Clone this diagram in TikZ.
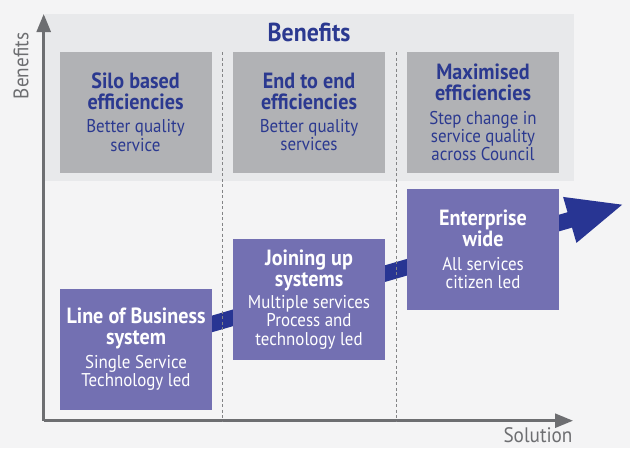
\documentclass[tikz,border=0pt]{standalone}
\usepackage{fontspec}
\setmainfont{PT Sans}[FakeStretch=0.915]
\usetikzlibrary{arrows.meta}

\definecolor{navy}{RGB}{43,57,144}
\definecolor{arrowblue}{RGB}{40,53,147}
\definecolor{panelgrey}{RGB}{232,233,235}
\definecolor{boxgrey}{RGB}{177,178,181}
\definecolor{boxpurple}{RGB}{115,112,178}
\definecolor{axisgrey}{RGB}{109,110,113}
\definecolor{paper}{RGB}{244,244,245}

\newcommand\mytitlefont{\fontsize{26}{28}\selectfont\bfseries}
\newcommand\myheadfont{\fontsize{22}{21}\selectfont\bfseries}
\newcommand\mybodyfont{\fontsize{18.5}{18.3}\selectfont\mdseries}
% two-part label: bold heading lines, a gap, then body lines
\newcommand\tilelabel[3]{\parbox{150pt}{\centering
  \myheadfont #1\par\vskip#2\mybodyfont #3\par}}

\tikzset{
  tile/.style={rectangle, minimum width=152pt, minimum height=121pt,
    inner sep=0pt, align=center},
  benefit/.style={tile, fill=boxgrey, text=navy},
  stage/.style={tile, fill=boxpurple, text=white},
  axisline/.style={draw=axisgrey, line width=2.6pt,
    -{Triangle[length=18pt,width=14pt]}},
  divider/.style={draw=axisgrey!85, line width=0.9pt,
    dash pattern=on 3pt off 2.5pt},
  progress/.style={draw=arrowblue, line width=16pt,
    -{Triangle[length=57pt,width=43pt]}},
  axislabel/.style={text=axisgrey, font=\fontsize{21}{24}\selectfont, inner sep=0pt}
}

\begin{document}
\begin{tikzpicture}[x=1pt,y=-1pt]
  % page and background
  \useasboundingbox (0,0) rectangle (630,448);
  \fill[paper] (0,0) rectangle (630,448);

  % benefits panel
  \fill[panelgrey] (45,14) rectangle (574,181);
  \node[text=navy, font=\mytitlefont, anchor=base, inner sep=0pt] (title) at (309,41.7) {Benefits};

  % axes
  \coordinate (O) at (43.7,420.7);
  \coordinate (ytip) at (43.7,14);
  \coordinate (xtip) at (573,420.7);
  \draw[axisline] (O) -- (ytip);
  \draw[axisline] (O) -- (xtip);
  \node[axislabel, rotate=90] (ylabel) at (21,66) {Benefits};
  \node[axislabel, anchor=base] (xlabel) at (538,442.5) {Solution};

  % progression arrow
  \coordinate (pstart) at (136,346);
  \coordinate (ptip) at (624.5,204);
  \draw[progress] (pstart) -- (ptip);

  % column dividers
  \coordinate (d1t) at (222.7,52);
  \coordinate (d1b) at (222.7,421);
  \coordinate (d2t) at (396,52);
  \coordinate (d2b) at (396,421);
  \draw[divider] (d1t) -- (d1b);
  \draw[divider] (d2t) -- (d2b);

  % benefit boxes
  \node[benefit] (silo) at (135.5,112.3)
    {\tilelabel{Silo based\\efficiencies}{4.5pt}{Better quality\\service}};
  \node[benefit] (endtoend) at (309,112.3)
    {\tilelabel{End to end\\efficiencies}{4.5pt}{Better quality\\services}};
  \node[benefit] (maxim) at (483,112.3)
    {\tilelabel{Maximised\\efficiencies}{5.5pt}{Step change in\\service quality\\across Council}};

  % solution stages
  \node[stage] (lob) at (136,349.5)
    {\tilelabel{Line of Business\\system}{5.5pt}{Single Service\\Technology led}};
  \node[stage] (join) at (309,299.5)
    {\tilelabel{Joining up\\systems}{3.5pt}{Multiple services\\Process and\\technology led}};
  \node[stage] (ent) at (483,249.3)
    {\tilelabel{Enterprise\\wide}{5.5pt}{All services\\citizen led}};
\end{tikzpicture}
\end{document}
